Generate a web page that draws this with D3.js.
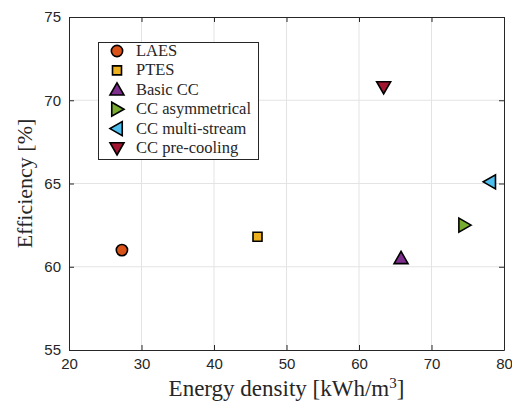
<!DOCTYPE html>
<html>
<head>
<meta charset="UTF-8">
<script src="https://d3js.org/d3.v7.min.js"></script>
<style>
  body { margin: 0; background: #fff; }
  text { fill: #262626; }
  .serif { font-family: "Liberation Serif", "DejaVu Serif", "Times New Roman", serif; }
</style>
</head>
<body>
<svg width="512" height="402"></svg>
<script>
// data
var names = ["LAES", "PTES", "Basic CC", "CC asymmetrical", "CC multi-stream", "CC pre-cooling"];
var density = [27.3, 46.0, 65.8, 74.5, 78.1, 63.4];
var efficiency = [61.0, 61.8, 60.5, 62.5, 65.1, 70.8];
var colors = ["#D95319", "#EDB120", "#7E2F8E", "#77AC30", "#4DBEEE", "#A2142F"];
var shapes = ["circle", "square", "up", "right", "left", "down"];
var xTicks = [20, 30, 40, 50, 60, 70, 80];
var yTicks = [55, 60, 65, 70, 75];

var pL = 69, pR = 504, pT = 17, pB = 350;

var x = d3.scaleLinear().domain([20, 80]).range([pL, pR]);
var y = d3.scaleLinear().domain([55, 75]).range([pB, pT]);

var svg = d3.select("svg");

// grid
svg.append("g").selectAll("line").data(xTicks.slice(1, -1)).enter().append("line")
  .attr("x1", d => x(d)).attr("x2", d => x(d))
  .attr("y1", pT).attr("y2", pB)
  .attr("stroke", "#e3e3e3").attr("stroke-width", 1);
svg.append("g").selectAll("line").data(yTicks.slice(1, -1)).enter().append("line")
  .attr("y1", d => y(d)).attr("y2", d => y(d))
  .attr("x1", pL).attr("x2", pR)
  .attr("stroke", "#e3e3e3").attr("stroke-width", 1);

// axes (ticks inside, box)
var tk = 5;
var xb = svg.append("g").attr("transform", "translate(0," + pB + ")")
  .call(d3.axisBottom(x).tickValues(xTicks).tickSizeInner(-tk).tickSizeOuter(0).tickPadding(8));
var xt = svg.append("g").attr("transform", "translate(0," + pT + ")")
  .call(d3.axisTop(x).tickValues(xTicks).tickSizeInner(-tk).tickSizeOuter(0).tickFormat(""));
var yl = svg.append("g").attr("transform", "translate(" + pL + ",0)")
  .call(d3.axisLeft(y).tickValues(yTicks).tickSizeInner(-tk).tickSizeOuter(0).tickPadding(8));
var yr = svg.append("g").attr("transform", "translate(" + pR + ",0)")
  .call(d3.axisRight(y).tickValues(yTicks).tickSizeInner(-tk).tickSizeOuter(0).tickFormat(""));
[xb, xt, yl, yr].forEach(function(g) {
  g.select(".domain").attr("stroke", "#262626").attr("stroke-width", 1);
  g.selectAll(".tick line").attr("stroke", "#262626");
  g.selectAll(".tick text").attr("font-family", "Liberation Sans, Arial, sans-serif")
    .attr("font-size", 15).attr("fill", "#262626");
});

// axis labels
svg.append("text").attr("class", "serif")
  .attr("x", (pL + pR) / 2).attr("y", 396)
  .attr("text-anchor", "middle")
  .attr("font-size", 23)
  .html("Energy density [kWh/m<tspan baseline-shift='super' font-size='15'>3</tspan>]");
svg.append("text").attr("class", "serif")
  .attr("transform", "translate(32," + (pT + pB) / 2 + ") rotate(-90)")
  .attr("text-anchor", "middle")
  .attr("font-size", 22)
  .text("Efficiency [%]");

function markerPath(shape) {
  if (shape == "circle") return d3.symbol(d3.symbolCircle, 100)();
  if (shape == "square") return "M-4.5,-4.5H4.5V4.5H-4.5Z";
  var s = 7;
  if (shape == "up") return "M0,-" + s + "L" + s + "," + (s * 0.75) + "L-" + s + "," + (s * 0.75) + "Z";
  if (shape == "down") return "M0," + s + "L" + s + ",-" + (s * 0.75) + "L-" + s + ",-" + (s * 0.75) + "Z";
  if (shape == "right") return "M" + s + ",0L-" + (s * 0.75) + "," + s + "L-" + (s * 0.75) + ",-" + s + "Z";
  return "M-" + s + ",0L" + (s * 0.75) + "," + s + "L" + (s * 0.75) + ",-" + s + "Z";
}

// points
svg.append("g").selectAll("path").data(names).enter().append("path")
  .attr("transform", (d, i) => "translate(" + x(density[i]) + "," + y(efficiency[i]) + ")")
  .attr("d", (d, i) => markerPath(shapes[i]))
  .attr("fill", (d, i) => colors[i])
  .attr("stroke", "#000").attr("stroke-width", 1.6)
  .attr("stroke-linejoin", "miter");

// legend
var lg = svg.append("g");
lg.append("rect").attr("x", 98.5).attr("y", 42.5).attr("width", 160).attr("height", 117)
  .attr("fill", "#fff").attr("stroke", "#262626").attr("stroke-width", 1);
var rows = lg.selectAll("g.row").data(names).enter().append("g")
  .attr("transform", (d, i) => "translate(117," + (51 + i * 19.4) + ")");
rows.append("path")
  .attr("d", (d, i) => markerPath(shapes[i]))
  .attr("fill", (d, i) => colors[i])
  .attr("stroke", "#000").attr("stroke-width", 1.6);
rows.append("text").attr("class", "serif")
  .attr("x", 19).attr("y", 5)
  .attr("font-size", 16.5)
  .text(d => d);
</script>
</body>
</html>
